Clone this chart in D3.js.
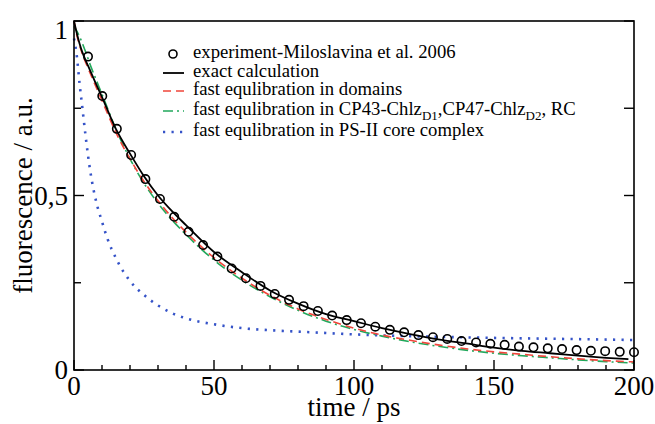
<!DOCTYPE html>
<html>
<head>
<meta charset="utf-8">
<script src="https://cdn.jsdelivr.net/npm/d3@7"></script>
<style>
  body { margin: 0; background: #fff; }
  svg { font-family: "Liberation Serif", "DejaVu Serif", serif; }
</style>
</head>
<body>
<svg id="chart" width="655" height="424"></svg>
<script>
// experiment (open circles)
var expTime = [5, 10.1, 15.3, 20.4, 25.5, 30.7, 35.8, 40.9, 46.1, 51.2, 56.3, 61.4, 66.6, 71.7,
  76.8, 82, 87.1, 92.2, 97.4, 102.5, 107.6, 112.8, 117.9, 123, 128.2, 133.3, 138.4, 143.6,
  148.7, 153.8, 158.9, 164.1, 169.2, 174.3, 179.5, 184.6, 189.7, 194.9, 200];
var expValue = [0.898, 0.785, 0.691, 0.616, 0.547, 0.490, 0.439, 0.396, 0.358, 0.325, 0.291,
  0.263, 0.241, 0.218, 0.201, 0.183, 0.169, 0.156, 0.143, 0.134, 0.124, 0.115, 0.108, 0.100,
  0.094, 0.089, 0.083, 0.079, 0.075, 0.072, 0.067, 0.065, 0.062, 0.060, 0.057, 0.055, 0.054,
  0.052, 0.051];

// exact calculation
var exactTime  = [0, 1, 2, 3, 5, 7.5, 10, 15, 20, 25, 30, 35, 40, 50, 60, 70, 80, 90, 100, 110, 120, 130, 140, 150, 160, 170, 180, 190, 198];
var exactValue = [1.0, 0.965, 0.935, 0.91, 0.872, 0.826, 0.782, 0.69, 0.62, 0.555, 0.50, 0.455, 0.415, 0.338, 0.28, 0.228, 0.19, 0.16, 0.14, 0.12, 0.103, 0.088, 0.076, 0.064, 0.055, 0.048, 0.041, 0.035, 0.031];

// fast equlibration in domains
var domTime  = [0, 1, 2, 3, 5, 7.5, 10, 15, 20, 25, 30, 35, 40, 50, 60, 70, 80, 90, 100, 110, 120, 130, 140, 150, 160, 170, 180, 190, 200];
var domValue = [1.0, 0.96, 0.93, 0.905, 0.865, 0.818, 0.772, 0.68, 0.605, 0.54, 0.485, 0.437, 0.395, 0.322, 0.263, 0.214, 0.175, 0.145, 0.12, 0.10, 0.085, 0.072, 0.061, 0.052, 0.045, 0.038, 0.032, 0.027, 0.023];

// fast equlibration in CP43-Chlz_D1, CP47-Chlz_D2, RC
var cpTime  = [0, 2, 4, 6, 8, 10, 15, 20, 25, 30, 35, 40, 50, 60, 70, 80, 90, 100, 110, 120, 130, 140, 150, 160, 170, 180, 190, 200];
var cpValue = [0.985, 0.955, 0.915, 0.87, 0.83, 0.79, 0.69, 0.605, 0.535, 0.478, 0.43, 0.388, 0.315, 0.257, 0.21, 0.171, 0.14, 0.116, 0.097, 0.081, 0.068, 0.057, 0.048, 0.041, 0.035, 0.029, 0.024, 0.02];

// fast equlibration in PS-II core complex
var coreTime  = [0, 1, 2, 3, 4, 5, 6, 8, 10, 12, 15, 20, 25, 30, 35, 40, 50, 60, 70, 80, 90, 100, 120, 150, 175, 200];
var coreValue = [0.95, 0.90, 0.82, 0.75, 0.68, 0.615, 0.56, 0.48, 0.425, 0.375, 0.32, 0.255, 0.215, 0.185, 0.163, 0.148, 0.131, 0.12, 0.114, 0.11, 0.106, 0.102, 0.097, 0.092, 0.089, 0.086];

var xMajor = [0, 50, 100, 150, 200];
var xMinor = [10, 20, 30, 40, 60, 70, 80, 90, 110, 120, 130, 140, 160, 170, 180, 190];
var yMajor = [0, 0.5, 1];
var yMinor = [0.25, 0.75];
var yLabels = ["0", "0,5", "1"];

var svg = d3.select('#chart');
var pLeft = 74, pRight = 634, pTop = 21, pBottom = 370;

var x = d3.scaleLinear().domain([0, 200]).range([pLeft, pRight]);
var y = d3.scaleLinear().domain([0, 1]).range([pBottom, pTop]);

function pts(ts, vs) { return ts.map((t, i) => [t, vs[i]]); }

var line = d3.line()
  .x(d => x(d[0]))
  .y(d => y(d[1]))
  .curve(d3.curveMonotoneX);

/* CURVES */

var series = [
  { data: pts(coreTime, coreValue), color: '#3553c8', width: 2.6, dash: '2.2,6.3' },
  { data: pts(cpTime, cpValue), color: '#22a85c', width: 1.6, dash: '10,4,2,4' },
  { data: pts(domTime, domValue), color: '#f0453a', width: 1.6, dash: '8,5' },
  { data: pts(exactTime, exactValue), color: '#000', width: 1.8, dash: null }
];

svg.append('g').selectAll('path')
  .data(series)
  .enter()
  .append('path')
  .attr('d', d => line(d.data))
  .style('fill', 'none')
  .style('stroke', d => d.color)
  .style('stroke-width', d => d.width)
  .style('stroke-dasharray', d => d.dash);

svg.append('g').selectAll('circle')
  .data(pts(expTime, expValue))
  .enter()
  .append('circle')
  .attr('cx', d => x(d[0]))
  .attr('cy', d => y(d[1]))
  .attr('r', 4.2)
  .style('fill', 'none')
  .style('stroke', '#000')
  .style('stroke-width', 1.6);

/* FRAME AND TICKS */

svg.append('rect')
  .attr('x', pLeft).attr('y', pTop)
  .attr('width', pRight - pLeft).attr('height', pBottom - pTop)
  .style('fill', 'none')
  .style('stroke', '#000')
  .style('stroke-width', 1.6);

var ticks = svg.append('g').style('stroke', '#000').style('stroke-width', 1.4);

ticks.selectAll('line.xmaj').data(xMajor).enter().append('line')
  .attr('x1', d => x(d)).attr('x2', d => x(d))
  .attr('y1', pBottom).attr('y2', pBottom - 10);
ticks.selectAll('line.xmin').data(xMinor).enter().append('line')
  .attr('x1', d => x(d)).attr('x2', d => x(d))
  .attr('y1', pBottom).attr('y2', pBottom - 5);

ticks.selectAll('line.ymaj').data(yMajor).enter().append('line')
  .attr('x1', pLeft).attr('x2', pLeft + 10)
  .attr('y1', d => y(d)).attr('y2', d => y(d));
ticks.selectAll('line.ymin').data(yMinor).enter().append('line')
  .attr('x1', pLeft).attr('x2', pLeft + 7)
  .attr('y1', d => y(d)).attr('y2', d => y(d));

ticks.selectAll('line.rmaj').data(yMajor).enter().append('line')
  .attr('x1', pRight).attr('x2', pRight - 10)
  .attr('y1', d => y(d)).attr('y2', d => y(d));
ticks.selectAll('line.rmin').data(yMinor).enter().append('line')
  .attr('x1', pRight).attr('x2', pRight - 10)
  .attr('y1', d => y(d)).attr('y2', d => y(d));

/* TICK LABELS */

svg.append('g').selectAll('text')
  .data(xMajor)
  .enter()
  .append('text')
  .attr('x', d => x(d))
  .attr('y', 395)
  .attr('text-anchor', 'middle')
  .style('font-size', '27px')
  .text(d => d);

svg.append('g').selectAll('text')
  .data(yMajor)
  .enter()
  .append('text')
  .attr('x', 68)
  .attr('y', d => d === 1 ? y(d) + 18 : y(d) + 9)
  .attr('text-anchor', 'end')
  .style('font-size', '27px')
  .text((d, i) => yLabels[i]);

/* AXIS TITLES */

svg.append('text')
  .attr('x', x(100))
  .attr('y', 416)
  .attr('text-anchor', 'middle')
  .style('font-size', '27px')
  .text('time / ps');

svg.append('text')
  .attr('transform', 'translate(32,' + y(0.5) + ') rotate(-90)')
  .attr('text-anchor', 'middle')
  .style('font-size', '27px')
  .text('fluorescence / a.u.');

/* LEGEND */

var legend = svg.append('g').style('font-size', '18.7px');
var legendRows = [
  { y: 58, text: 'experiment-Miloslavina et al. 2006' },
  { y: 77, text: 'exact calculation', s: series[3] },
  { y: 95, text: 'fast equlibration in domains', s: series[2] },
  { y: 115, text: null, s: series[1] },
  { y: 136, text: 'fast equlibration in PS-II core complex', s: series[0] }
];

legendRows.forEach(function(r) {
  if (r.s) {
    legend.append('line')
      .attr('x1', 163).attr('x2', 184)
      .attr('y1', r.y - 4).attr('y2', r.y - 4)
      .style('stroke', r.s.color)
      .style('stroke-width', r.s.width)
      .style('stroke-dasharray', r.s.dash);
  } else {
    legend.append('circle')
      .attr('cx', 173).attr('cy', r.y - 4).attr('r', 4)
      .style('fill', 'none').style('stroke', '#000').style('stroke-width', 1.6);
  }
  var t = legend.append('text').attr('x', 193).attr('y', r.y);
  if (r.text) {
    t.text(r.text);
  } else {
    t.append('tspan').text('fast equlibration in CP43-Chlz');
    t.append('tspan').attr('dy', 5).style('font-size', '13px').text('D1');
    t.append('tspan').attr('dy', -5).text(',CP47-Chlz');
    t.append('tspan').attr('dy', 5).style('font-size', '13px').text('D2');
    t.append('tspan').attr('dy', -5).text(', RC');
  }
});
</script>
</body>
</html>
